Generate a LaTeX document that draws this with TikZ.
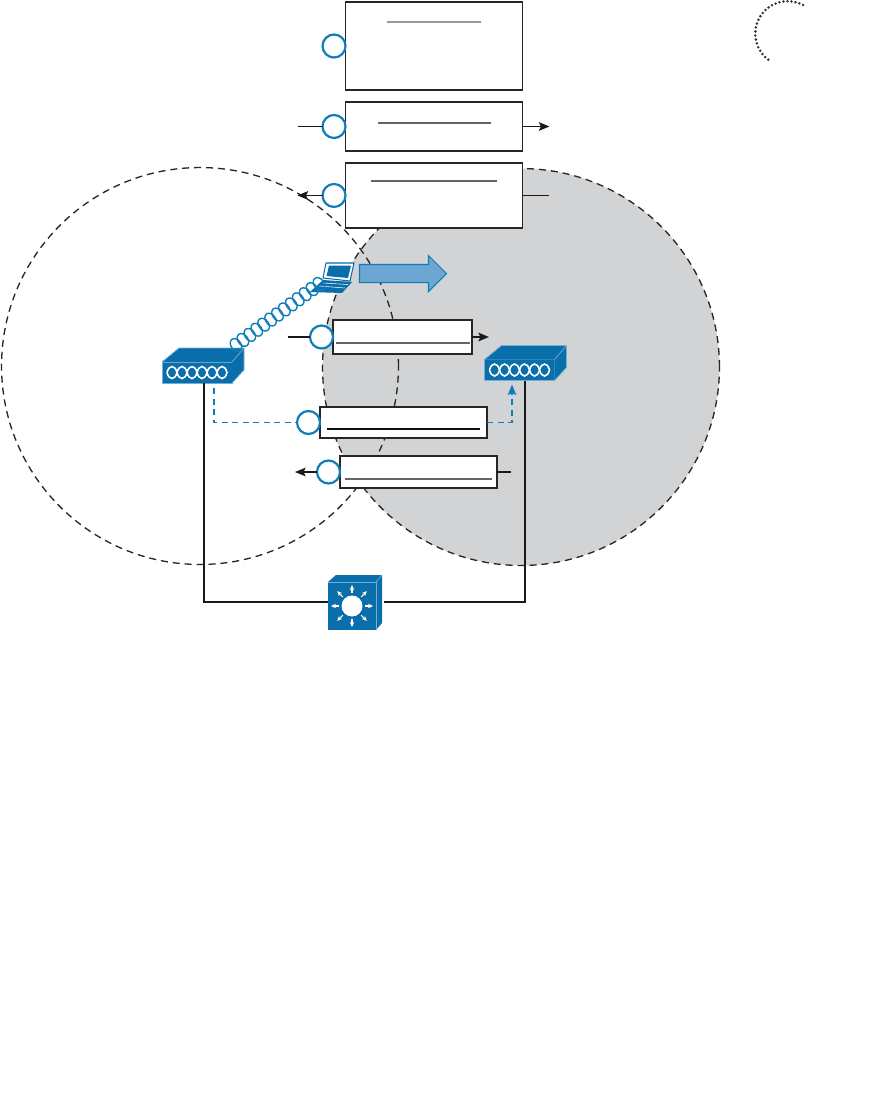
\documentclass[tikz,border=0pt]{standalone}
\usepackage{xcolor}
\usepackage{tikz}
\usetikzlibrary{shapes,arrows,arrows.meta,positioning,calc}
\definecolor{devblue}{HTML}{0A6EAA}
\definecolor{devedge}{HTML}{6FB1D8}
\definecolor{ringblue}{HTML}{0F7DB8}
\definecolor{roamblue}{HTML}{6CA6D1}
\definecolor{zonegray}{HTML}{D1D3D4}

\begin{document}
\begin{tikzpicture}[
    x=0.02cm, y=-0.02cm,
    >={Stealth[length=0.21cm, width=0.17cm, inset=0.04cm]},
    zone/.style={circle, draw=black!85, dash pattern=on 4pt off 2.8pt, line width=0.75pt, minimum size=7.94cm, inner sep=0pt, outer sep=0pt},
    frame/.style={rectangle, draw=black!85, fill=white, line width=1pt, minimum width=3.54cm, inner sep=0pt, outer sep=0pt},
    stepmark/.style={circle, draw=ringblue, fill=white, line width=1.25pt, minimum size=0.46cm, inner sep=0pt, outer sep=0pt},
    rule/.style={draw=black!60, line width=0.6pt},
    arrow/.style={->, line width=1.1pt, black!90},
    stub/.style={line width=1.1pt, black!90},
    wire/.style={line width=1.2pt, black!90},
    blueline/.style={draw=ringblue, line width=0.9pt, dash pattern=on 3.4pt off 2.6pt},
    apface/.style={rectangle, fill=devblue, draw=devedge, line width=0.4pt, minimum width=1.4cm, minimum height=0.42cm, inner sep=0pt, outer sep=0pt},
    swface/.style={rectangle, fill=devblue, minimum size=0.96cm, inner sep=0pt, outer sep=0pt}
]
\useasboundingbox (0,0) rectangle (881,1106);

% Coverage zones
\node[zone, fill=zonegray] (zoneright) at (521,367) {};
\node[zone] (zoneleft) at (200,366) {};

% Dotted arc
\draw[line width=1.6pt, line cap=round, dash pattern=on 0pt off 2.3pt, black!80] (803,5) arc[start angle=62, end angle=235, radius=0.65cm];

% Top frames
\node[frame, minimum height=1.76cm] (frameone) at (434,46) {};
\node[frame, minimum height=0.98cm, below=0.24cm of frameone] (frametwo) {};
\node[frame, minimum height=1.3cm, below=0.24cm of frametwo] (framethree) {};

% Lower frames
\node[frame, minimum width=2.78cm, minimum height=0.68cm] (framefour) at (402.5,337) {};
\node[frame, minimum width=3.34cm, minimum height=0.62cm] (framefive) at (403.5,422.5) {};
\node[frame, minimum width=3.14cm, minimum height=0.64cm] (framesix) at (418.5,472) {};

% Rules inside frames
\draw[rule, line width=1pt, black!40] (387,22) -- (481,22);
\draw[rule] (378,123) -- (491,123);
\draw[rule] (371,181) -- (497,181);
\draw[rule] (336,343) -- (470,343);
\draw[rule, black!95] (327,429) -- (480,429);
\draw[rule] (345,479) -- (492,479);

% Step marks
\node[stepmark, left=0pt of frameone] (stepone) {};
\node[stepmark, left=0pt of frametwo] (steptwo) {};
\node[stepmark, left=0pt of framethree] (stepthree) {};
\node[stepmark, left=0pt of framefour] (stepfour) {};
\node[stepmark, left=0pt of framefive] (stepfive) {};
\node[stepmark, left=0pt of framesix] (stepsix) {};

% Access points
\foreach \n/\cx/\cy in {apleft/197/372.5, apright/519.5/370} {
    \node[apface] (\n) at (\cx,\cy) {};
    \fill[devblue] (\n.north west) -- ++(17,-14) -- ++(65,0) -- ++(0,22) -- (\n.south east) -- (\n.north east) -- cycle;
    \draw[devedge, line width=0.4pt] (\n.north west) -- ++(17,-14) -- ++(65,0) -- ++(0,22) -- (\n.south east);
    \draw[devedge, line width=0.4pt] (\n.north east) -- ++(12,-14);
    \foreach \i in {0,1,2,3,4,5} {
        \draw[white, line width=0.9pt] ($(\n.west)+(5+10*\i,0)$) .. controls ($(\n.west)+(7+10*\i,-8)$) and ($(\n.west)+(13+10*\i,-8)$) .. ($(\n.west)+(15+10*\i,0)$) .. controls ($(\n.west)+(13+10*\i,8)$) and ($(\n.west)+(7+10*\i,8)$) .. ($(\n.west)+(5+10*\i,0)$);
    }
}

% Switch
\node[swface] (switch) at (352,606) {};
\fill[devblue] (switch.north west) -- ++(8,-7) -- ++(46,0) -- ++(0,48) -- (switch.south east) -- (switch.north east) -- cycle;
\draw[devedge, line width=0.4pt] (switch.north east) -- ++(6,-7);
\draw[devedge, line width=0.4pt] (switch.north west) -- (switch.north east) -- (switch.south east);
\node[circle, fill=white, minimum size=0.42cm, inner sep=0pt] (hub) at (switch.center) {};
\foreach \a in {0,45,...,315} {
    \draw[white, -{Stealth[length=0.1cm, width=0.09cm]}, line width=0.6pt] (hub.center) ++(\a:13) -- ++(\a:8);
}

% Laptop
\coordinate (laptop) at (319,284);
\fill[devblue] (323,280) -- (352,282) -- (342,293) -- (310,292) -- cycle;
\draw[white, line width=0.3pt] (323,283) -- (348,284.5) (319,286) -- (345,288);
\draw[devblue, fill=white, line width=0.6pt] (326,263) -- (354,263) -- (350,281) -- (323,278) -- cycle;
\fill[devblue] (329,265.5) -- (351,265.5) -- (348,278) -- (326.5,276) -- cycle;

% Wireless link
\coordinate (linkstart) at (236,345);
\foreach \i in {0,...,12} {
    \draw[ringblue, line width=0.8pt] ($(linkstart)!\i/12!(laptop)$) circle[x radius=0.1cm, y radius=0.14cm, rotate=36];
}

% Roaming arrow
\node[single arrow, draw=ringblue, fill=roamblue, line width=0.6pt, minimum height=1.74cm, text height=0.34cm, text depth=0pt, text width=0.1cm, single arrow head extend=0.18cm, single arrow head indent=0pt, inner sep=0pt, outer sep=0pt] (roam) at (398.5,273.5) {};

% Arrows
\coordinate[left=0.5cm of steptwo] (intwo);
\coordinate[right=0.54cm of frametwo] (outtwo);
\coordinate[left=0.5cm of stepthree] (outthree);
\coordinate[right=0.54cm of framethree] (inthree);
\coordinate[left=0.44cm of stepfour] (infour);
\coordinate[right=0.34cm of framefour] (outfour);
\coordinate[left=0.44cm of stepsix] (outsix);
\coordinate[right=0.28cm of framesix] (insix);
\draw[stub] (intwo) -- (steptwo);
\draw[arrow] (frametwo) -- (outtwo);
\draw[arrow] (stepthree) -- (outthree);
\draw[stub] (framethree) -- (inthree);
\draw[stub] (infour) -- (stepfour);
\draw[arrow] (framefour) -- (outfour);
\draw[arrow, line width=0.7pt] (stepsix) -- (outsix);
\draw[stub, line width=0.7pt] (framesix) -- (insix);

% Roaming path
\coordinate (dashstart) at ($(apleft.south)+(17,5)$);
\coordinate (dashend) at ($(apright.south)+(-7.5,4)$);
\draw[blueline] (dashstart) |- (stepfive);
\draw[blueline, ->] (framefive) -| (dashend);

% Wired uplinks
\coordinate (wireleft) at ($(apleft.south)+(7,0)$);
\coordinate (wireright) at ($(apright.south)+(5.5,0)$);
\coordinate (swin) at ($(switch.west)+(0,-4)$);
\coordinate (swout) at ($(switch.east)+(8,-4)$);
\draw[wire] (wireleft) |- (swin);
\draw[wire] (wireright) |- (swout);

\end{tikzpicture}
\end{document}
